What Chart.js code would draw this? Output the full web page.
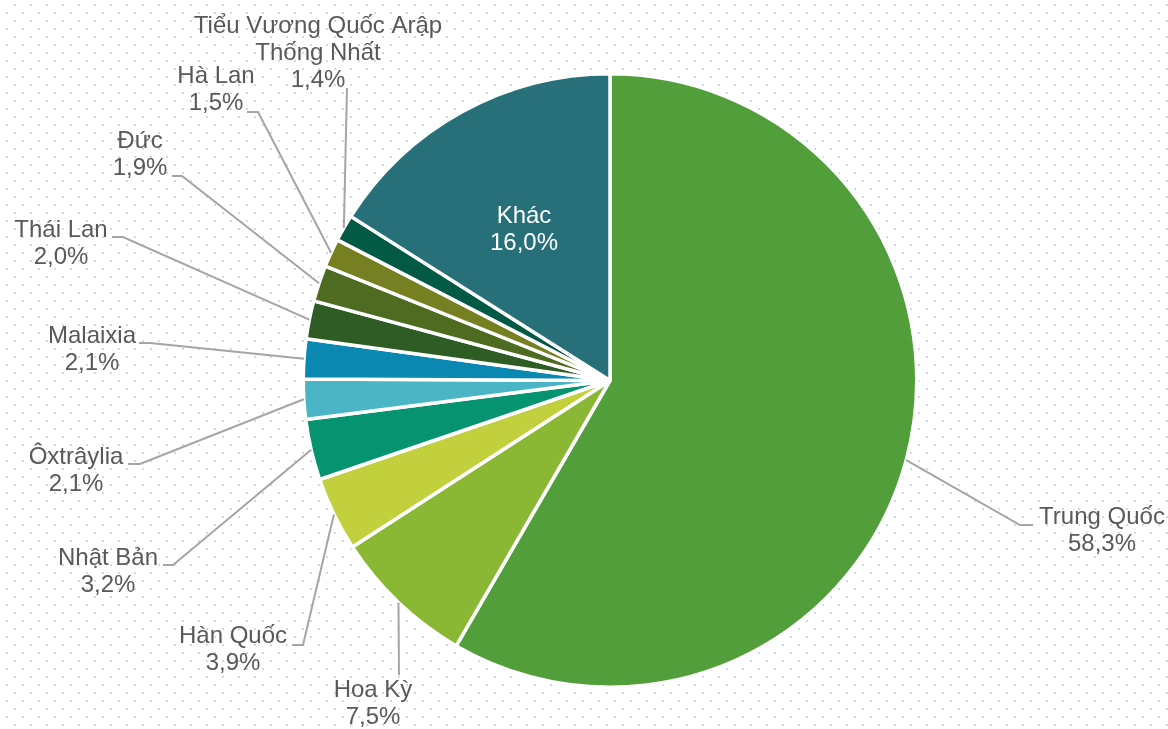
<!DOCTYPE html>
<html>
<head>
<meta charset="utf-8">
<script src="https://cdn.jsdelivr.net/npm/chart.js@4"></script>
<style>
  html, body { margin: 0; padding: 0; background: #fff; }
  canvas { display: block; }
</style>
</head>
<body>
<canvas id="chart" width="1168" height="729"></canvas>
<script>
// categories and shares (%), clockwise from 12 o'clock
const categories = ['Trung Quốc', 'Hoa Kỳ', 'Hàn Quốc', 'Nhật Bản', 'Ôxtrâylia', 'Malaixia',
  'Thái Lan', 'Đức', 'Hà Lan', ['Tiểu Vương Quốc Arập', 'Thống Nhất'], 'Khác'];
const shares = [58.3, 7.5, 3.9, 3.2, 2.1, 2.1, 2.0, 1.9, 1.5, 1.4, 16.0];
const colors = ['#529e3a', '#8ab734', '#c1d03c', '#05946f', '#4bb5c5', '#0a88b1',
  '#2f5b24', '#4f6b21', '#767f22', '#035a44', '#277079'];

// label placement: [text center x, first baseline y, elbow x, elbow y, line end x]
const labelPos = [
  [1102, 524, 1020, 525, 1033],
  [373, 697, 399, 675, 399],
  [233, 643, 303, 645, 292],
  [108, 565, 173, 565, 163],
  [76, 464, 140, 464, 128],
  [92, 343, 150, 343, 139],
  [61, 237, 123, 237, 112],
  [140, 148, 182, 176, 172],
  [216, 83, 258, 112, 247],
  [318, 33, 347, 88, 347],
  [524, 223, null, null, null]
];

const dotBackground = {
  id: 'dotBackground',
  beforeDraw(chart) {
    const ctx = chart.ctx;
    ctx.save();
    ctx.fillStyle = '#fff';
    ctx.fillRect(0, 0, chart.width, chart.height);
    ctx.fillStyle = '#cad9f5';
    for (let n = 0, y = 4; y < chart.height; n++, y += 8) {
      for (let x = (n % 2 ? 6 : 14); x < chart.width; x += 16) {
        ctx.fillRect(x, y, 2, 2);
      }
    }
    ctx.restore();
  }
};

const sliceLabels = {
  id: 'sliceLabels',
  afterDatasetsDraw(chart) {
    const ctx = chart.ctx;
    const meta = chart.getDatasetMeta(0);
    ctx.save();
    ctx.font = '24px "Liberation Sans", Arial, sans-serif';
    ctx.textAlign = 'center';
    ctx.textBaseline = 'alphabetic';
    meta.data.forEach((arc, i) => {
      const p = labelPos[i];
      const lines = [].concat(chart.data.labels[i]);
      lines.push(shares[i].toFixed(1).replace('.', ',') + '%');
      if (p[2] !== null) {
        const mid = (arc.startAngle + arc.endAngle) / 2;
        const sx = arc.x + Math.cos(mid) * arc.outerRadius;
        const sy = arc.y + Math.sin(mid) * arc.outerRadius;
        ctx.strokeStyle = '#a5a5a5';
        ctx.lineWidth = 2;
        ctx.beginPath();
        ctx.moveTo(sx, sy);
        ctx.lineTo(p[2], p[3]);
        ctx.lineTo(p[4], p[3]);
        ctx.stroke();
        ctx.fillStyle = '#595959';
      } else {
        ctx.fillStyle = '#ffffff';
      }
      lines.forEach((t, k) => ctx.fillText(t, p[0], p[1] + k * 27));
    });
    ctx.restore();
  }
};

new Chart(document.getElementById('chart'), {
  type: 'pie',
  data: {
    labels: categories,
    datasets: [{
      data: shares,
      backgroundColor: colors,
      borderColor: '#ffffff',
      borderWidth: 3.5
    }]
  },
  options: {
    responsive: false,
    animation: false,
    devicePixelRatio: 1,
    layout: { padding: { top: 72, bottom: 40, left: 100, right: 48 } },
    plugins: {
      legend: { display: false },
      tooltip: { enabled: false }
    }
  },
  plugins: [dotBackground, sliceLabels]
});
</script>
</body>
</html>
